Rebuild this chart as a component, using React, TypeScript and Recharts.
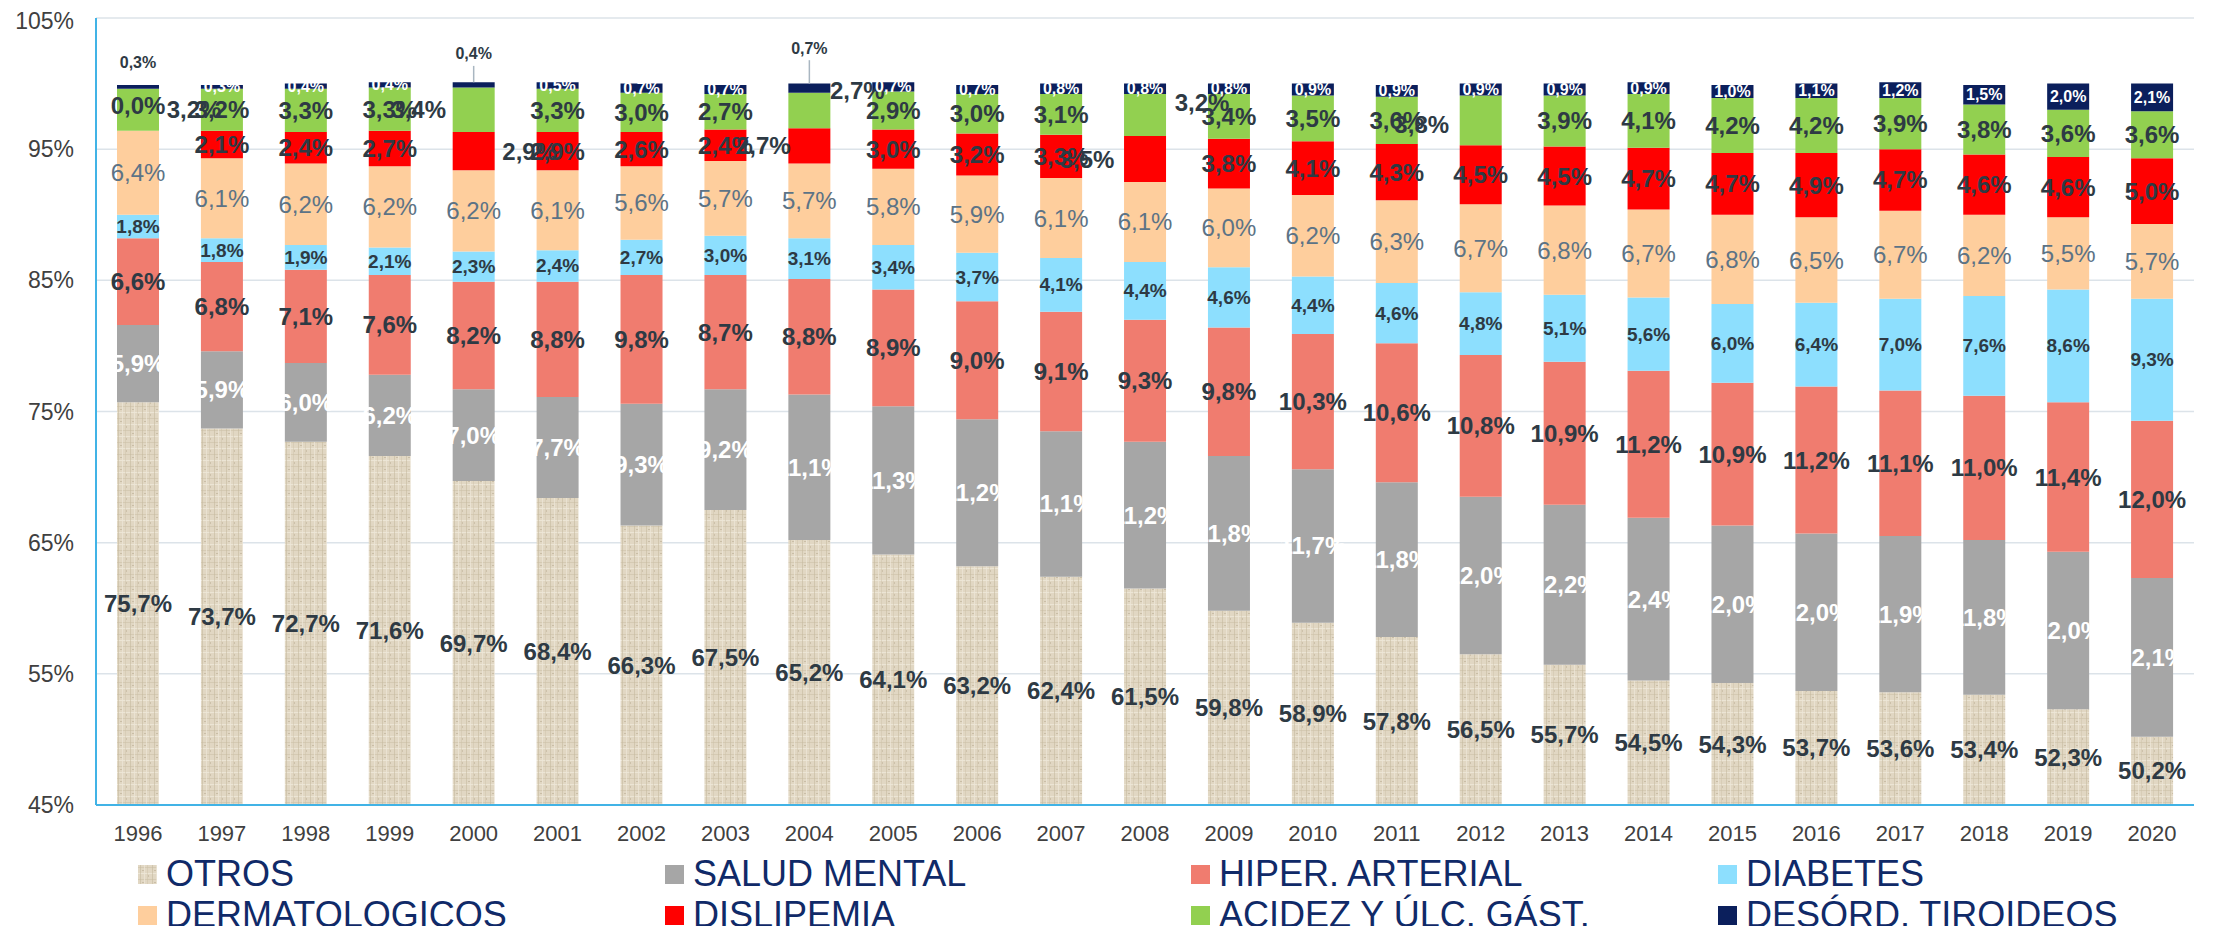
import { BarChart, Bar, XAxis, YAxis, CartesianGrid, LabelList, Legend } from 'recharts';

const YEARS = ['1996', '1997', '1998', '1999', '2000', '2001', '2002', '2003', '2004', '2005', '2006', '2007', '2008',
  '2009', '2010', '2011', '2012', '2013', '2014', '2015', '2016', '2017', '2018', '2019', '2020'];

const OTROS = [75.7, 73.7, 72.7, 71.6, 69.7, 68.4, 66.3, 67.5, 65.2, 64.1, 63.2, 62.4, 61.5, 59.8, 58.9, 57.8, 56.5, 55.7, 54.5, 54.3, 53.7, 53.6, 53.4, 52.3, 50.2];
const SALUD_MENTAL = [5.9, 5.9, 6.0, 6.2, 7.0, 7.7, 9.3, 9.2, 11.1, 11.3, 11.2, 11.1, 11.2, 11.8, 11.7, 11.8, 12.0, 12.2, 12.4, 12.0, 12.0, 11.9, 11.8, 12.0, 12.1];
const HIPER_ARTERIAL = [6.6, 6.8, 7.1, 7.6, 8.2, 8.8, 9.8, 8.7, 8.8, 8.9, 9.0, 9.1, 9.3, 9.8, 10.3, 10.6, 10.8, 10.9, 11.2, 10.9, 11.2, 11.1, 11.0, 11.4, 12.0];
const DIABETES = [1.8, 1.8, 1.9, 2.1, 2.3, 2.4, 2.7, 3.0, 3.1, 3.4, 3.7, 4.1, 4.4, 4.6, 4.4, 4.6, 4.8, 5.1, 5.6, 6.0, 6.4, 7.0, 7.6, 8.6, 9.3];
const DERMATOLOGICOS = [6.4, 6.1, 6.2, 6.2, 6.2, 6.1, 5.6, 5.7, 5.7, 5.8, 5.9, 6.1, 6.1, 6.0, 6.2, 6.3, 6.7, 6.8, 6.7, 6.8, 6.5, 6.7, 6.2, 5.5, 5.7];
const DISLIPEMIA = [0.0, 2.1, 2.4, 2.7, 2.9, 2.9, 2.6, 2.4, 2.7, 3.0, 3.2, 3.3, 3.5, 3.8, 4.1, 4.3, 4.5, 4.5, 4.7, 4.7, 4.9, 4.7, 4.6, 4.6, 5.0];
const ACIDEZ = [3.2, 3.2, 3.3, 3.3, 3.4, 3.3, 3.0, 2.7, 2.7, 2.9, 3.0, 3.1, 3.2, 3.4, 3.5, 3.6, 3.8, 3.9, 4.1, 4.2, 4.2, 3.9, 3.8, 3.6, 3.6];
const TIROIDEOS = [0.3, 0.3, 0.4, 0.4, 0.4, 0.5, 0.7, 0.7, 0.7, 0.7, 0.7, 0.8, 0.8, 0.8, 0.9, 0.9, 0.9, 0.9, 0.9, 1.0, 1.1, 1.2, 1.5, 2.0, 2.1];

const Y_TICKS = [45, 55, 65, 75, 85, 95, 105];

const data = YEARS.map((year, i) => ({
  year,
  otros: OTROS[i],
  salud: SALUD_MENTAL[i],
  hiper: HIPER_ARTERIAL[i],
  diabetes: DIABETES[i],
  derma: DERMATOLOGICOS[i],
  dislip: DISLIPEMIA[i],
  acidez: ACIDEZ[i],
  tiroides: TIROIDEOS[i],
}));

const FONT = '"Liberation Sans", Arial, sans-serif';
const DARK = '#2E3A44';

type LabelCfg = { fill: string; size: number; weight: number };

const SERIES: { key: string; name: string; color: string; label: LabelCfg }[] = [
  { key: 'otros', name: 'OTROS', color: 'url(#otrosTexture)', label: { fill: DARK, size: 24, weight: 700 } },
  { key: 'salud', name: 'SALUD MENTAL', color: '#A6A6A6', label: { fill: '#FFFFFF', size: 24, weight: 700 } },
  { key: 'hiper', name: 'HIPER. ARTERIAL', color: '#F07C6F', label: { fill: DARK, size: 24, weight: 700 } },
  { key: 'diabetes', name: 'DIABETES', color: '#8DDFFE', label: { fill: DARK, size: 19, weight: 700 } },
  { key: 'derma', name: 'DERMATOLOGICOS', color: '#FECE9D', label: { fill: '#5C7386', size: 24, weight: 400 } },
  { key: 'dislip', name: 'DISLIPEMIA', color: '#FF0000', label: { fill: DARK, size: 24, weight: 700 } },
  { key: 'acidez', name: 'ACIDEZ Y ÚLC. GÁST.', color: '#92D050', label: { fill: DARK, size: 24, weight: 700 } },
  { key: 'tiroides', name: 'DESÓRD. TIROIDEOS', color: '#0B1F5C', label: { fill: '#FFFFFF', size: 16, weight: 700 } },
];

// labels Excel moved out of their segment (key: series-yearIndex)
const LABEL_MOVES: Record<string, { dx?: number; dy?: number; outside?: boolean; leader?: boolean }> = {
  'tiroides-0': { dy: -24, outside: true },
  'tiroides-4': { dy: -31, outside: true, leader: true },
  'tiroides-8': { dy: -40, outside: true, leader: true },
  'dislip-0': { dy: -25 },
  'acidez-0': { dx: 56 },
  'dislip-4': { dx: 56 },
  'acidez-4': { dx: -55 },
  'dislip-8': { dx: -46 },
  'acidez-8': { dx: 48, dy: -20 },
  'dislip-12': { dx: -58 },
  'acidez-12': { dx: 57, dy: -13 },
  'acidez-16': { dx: -59, dy: 4 },
};

const CHART_W = 2197;
const CHART_H = 926;
const MARGIN = { top: 10, right: 11, bottom: 0, left: 0 };
const Y_AXIS_W = 88;
const X_AXIS_H = 40;
const LEGEND_H = 89;
const PLOT_BOTTOM = CHART_H - MARGIN.bottom - LEGEND_H - X_AXIS_H;
const PLOT_LEFT = MARGIN.left + Y_AXIS_W;
const CAT_W = (CHART_W - MARGIN.right - PLOT_LEFT) / YEARS.length;

const fmt = (v: number) => v.toFixed(1).replace('.', ',') + '%';

const makeLabel = (key: string, cfg: LabelCfg) => (props: any) => {
  const x = Number(props.x);
  const y = Number(props.y);
  const w = Number(props.width);
  const h = Number(props.height);
  const value = Number(props.value);
  if (!isFinite(x) || !isFinite(y) || !isFinite(value)) return null;
  const idx = Math.floor((x + w / 2 - PLOT_LEFT) / CAT_W);
  const top = Math.min(y, y + h);
  const bottom = Math.min(Math.max(y, y + h), PLOT_BOTTOM);
  const move = LABEL_MOVES[`${key}-${idx}`] || {};
  const cx = x + w / 2 + (move.dx || 0);
  const cy = (top + bottom) / 2 + (move.dy || 0);

  // a zero DISLIPEMIA segment draws no bar, so its label hangs off the bar above it
  let zeroLabel = null;
  if (key === 'acidez' && DISLIPEMIA[idx] === 0) {
    const m = LABEL_MOVES[`dislip-${idx}`] || {};
    zeroLabel = (
      <text
        x={x + w / 2 + (m.dx || 0)}
        y={bottom + (m.dy || 0)}
        textAnchor="middle"
        dominantBaseline="central"
        fontFamily={FONT}
        fontSize={24}
        fontWeight={700}
        fill={DARK}
      >
        {fmt(DISLIPEMIA[idx])}
      </text>
    );
  }

  return (
    <g>
      {move.leader && <line x1={cx} x2={cx} y1={cy + 12} y2={top} stroke="#A9B6C1" strokeWidth={1.5} />}
      <text
        x={cx}
        y={cy}
        textAnchor="middle"
        dominantBaseline="central"
        fontFamily={FONT}
        fontSize={cfg.size}
        fontWeight={cfg.weight}
        fill={move.outside ? DARK : cfg.fill}
      >
        {fmt(value)}
      </text>
      {zeroLabel}
    </g>
  );
};

const LEGEND_X = [130, 657, 1183, 1710];
const LEGEND_ROW_Y = [29, 70];

function LegendBlock({ payload }: any) {
  const order = (name: string) => SERIES.findIndex((s) => s.name === name);
  const items = [...(payload || [])].sort((a: any, b: any) => order(a.value) - order(b.value));
  return (
    <div style={{ position: 'relative', height: LEGEND_H, width: '100%' }}>
      {items.map((entry: any, i: number) => (
        <div
          key={entry.value}
          style={{
            position: 'absolute',
            left: LEGEND_X[i % 4],
            top: LEGEND_ROW_Y[Math.floor(i / 4)] - 20,
            height: 40,
            display: 'flex',
            alignItems: 'center',
            whiteSpace: 'nowrap',
          }}
        >
          <svg width={19} height={19} style={{ marginRight: 9 }}>
            <rect width={19} height={19} fill={entry.color} />
          </svg>
          <span style={{ fontFamily: FONT, fontSize: 36, color: '#102A68', lineHeight: '40px' }}>{entry.value}</span>
        </div>
      ))}
    </div>
  );
}

export default function App() {
  return (
    <div style={{ height: CHART_H, marginBottom: -8 }}>
      <BarChart width={CHART_W} height={CHART_H} data={data} margin={MARGIN}>
        <defs>
          <pattern id="otrosTexture" width="12" height="12" patternUnits="userSpaceOnUse">
            <rect width="12" height="12" fill="#E1D7C3" />
            <rect x="0" y="2" width="12" height="1" fill="#C9BDA3" opacity="0.5" />
            <rect x="0" y="8" width="12" height="1" fill="#EFE8DA" opacity="0.8" />
            <rect x="2" y="0" width="1" height="12" fill="#C4B79C" opacity="0.55" />
            <rect x="6" y="0" width="1" height="12" fill="#EEE7D9" opacity="0.7" />
            <rect x="9" y="0" width="1" height="12" fill="#CDC1A8" opacity="0.45" />
            <rect x="4" y="5" width="2" height="1" fill="#B3A68B" opacity="0.5" />
            <rect x="10" y="10" width="1" height="2" fill="#B3A68B" opacity="0.45" />
          </pattern>
        </defs>
        <CartesianGrid vertical={false} stroke="#DCE3E9" strokeWidth={1.5} />
        <XAxis
          dataKey="year"
          height={X_AXIS_H}
          axisLine={{ stroke: '#41B3E6', strokeWidth: 2 }}
          tickLine={false}
          tickSize={0}
          tickMargin={20}
          interval={0}
          tick={{ fill: '#404040', fontSize: 22, fontFamily: FONT }}
        />
        <YAxis
          width={Y_AXIS_W}
          domain={[45, 105]}
          ticks={Y_TICKS}
          allowDataOverflow
          tickFormatter={(v) => `${v}%`}
          axisLine={{ stroke: '#41B3E6', strokeWidth: 2 }}
          tickLine={false}
          tickSize={0}
          tickMargin={22}
          tick={{ fill: '#404040', fontSize: 23, fontFamily: FONT }}
        />
        <Legend verticalAlign="bottom" align="left" content={<LegendBlock />} />
        {SERIES.map((s) => (
          <Bar key={s.key} dataKey={s.key} name={s.name} stackId="a" fill={s.color} barSize={42} isAnimationActive={false}>
            <LabelList dataKey={s.key} content={makeLabel(s.key, s.label)} />
          </Bar>
        ))}
      </BarChart>
    </div>
  );
}
